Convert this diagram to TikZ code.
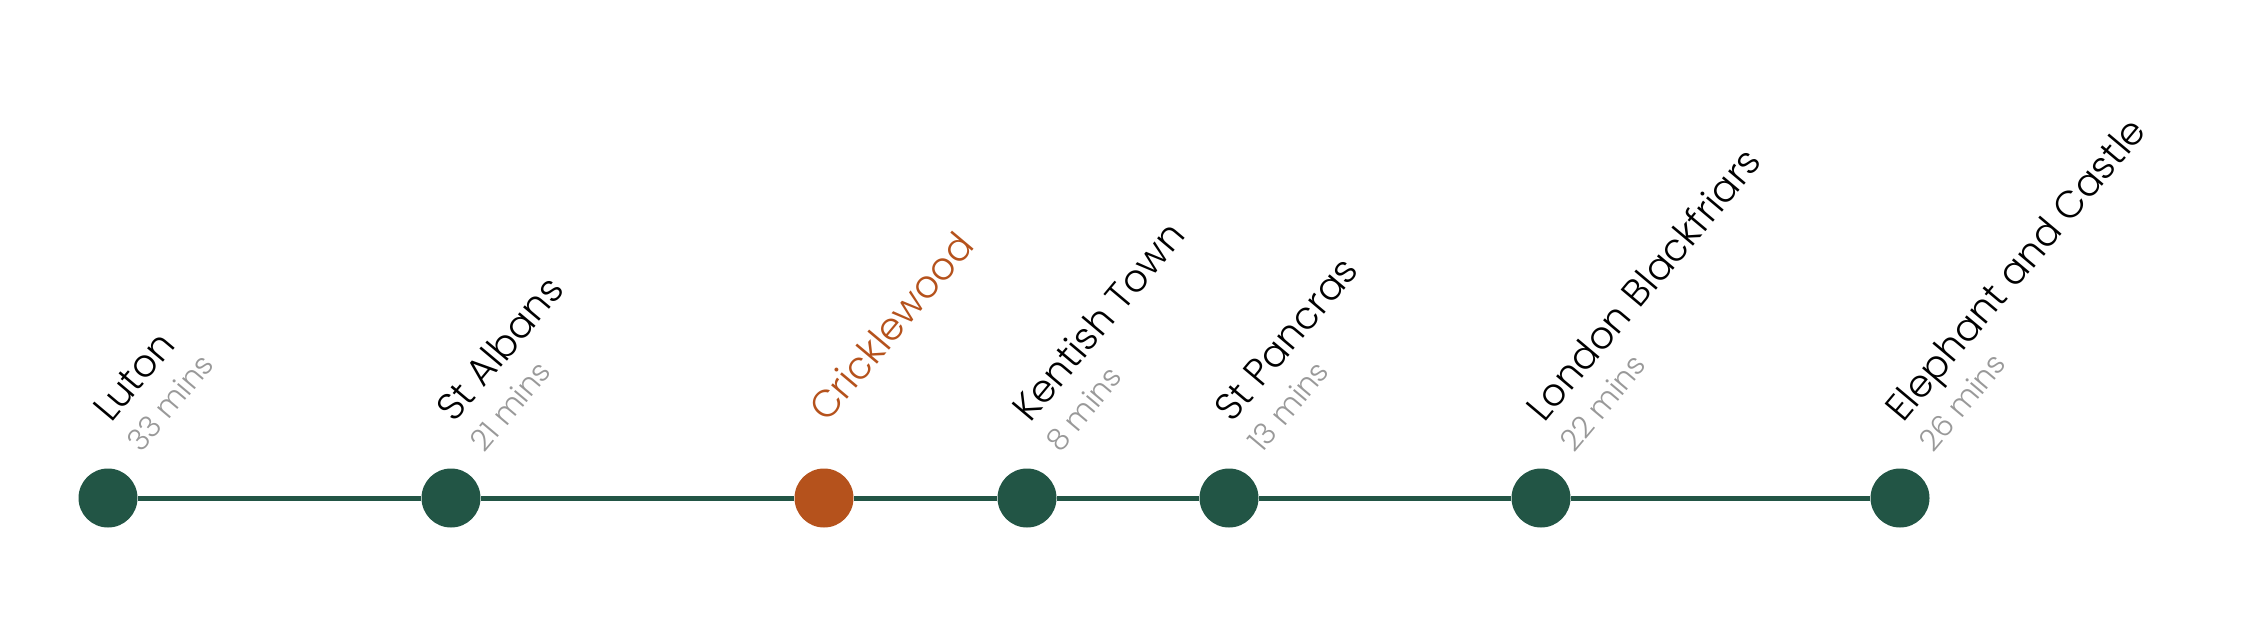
\documentclass[tikz,border=0pt]{standalone}
\usepackage{fontspec}
\setmainfont{Poppins}[UprightFont={* Light}]
\definecolor{lgreen}{HTML}{225545}
\definecolor{lorange}{HTML}{B5521C}
\definecolor{lgray}{HTML}{999999}
\begin{document}
\begin{tikzpicture}[x=1pt,y=-1pt]
\useasboundingbox (0,0) rectangle (2243,618);
\tikzset{
  stn/.style={circle,fill=lgreen,minimum size=59pt,inner sep=0pt},
  hot/.style={stn,fill=lorange},
  sname/.style={anchor=base west,rotate=50,inner sep=0pt,font=\fontsize{38}{44}\selectfont},
  smins/.style={anchor=base west,rotate=50,inner sep=0pt,text=lgray,font=\fontsize{30}{36}\selectfont},
  track/.style={draw=lgreen,line width=5pt}
}
\node[stn] (luton) at (108,498) {};
\node[stn] (albans) at (451,498) {};
\node[hot] (crick) at (824,498) {};
\node[stn] (kentish) at (1027,498) {};
\node[stn] (pancras) at (1229,498) {};
\node[stn] (black) at (1541,498) {};
\node[stn] (eleph) at (1900,498) {};
\draw[track] (luton) -- (albans) -- (crick) -- (kentish) -- (pancras) -- (black) -- (eleph);

\node[sname] (lutonN) at (111,424) {Luton};
\node[smins] (lutonM) at (141,454) {33 mins};
\node[sname] (albansN) at (454,424) {St Albans};
\node[smins] (albansM) at (484,454) {21 mins};
\node[sname,text=lorange] (crickN) at (827,424) {Cricklewood};
\node[sname] (kentishN) at (1030,424) {Kentish Town};
\node[smins] (kentishM) at (1060,454) {8 mins};
\node[sname] (pancrasN) at (1232,424) {St Pancras};
\node[smins] (pancrasM) at (1262,454) {13 mins};
\node[sname] (blackN) at (1544,424) {London Blackfriars};
\node[smins] (blackM) at (1574,454) {22 mins};
\node[sname] (elephN) at (1903,424) {Elephant and Castle};
\node[smins] (elephM) at (1933,454) {26 mins};
\end{tikzpicture}
\end{document}
